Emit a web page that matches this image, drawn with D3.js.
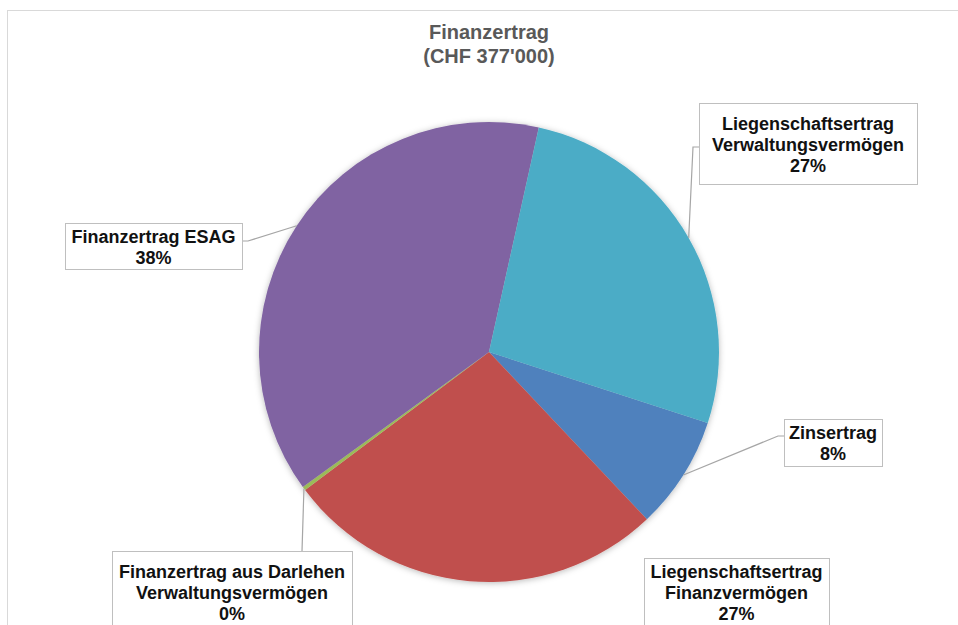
<!DOCTYPE html>
<html>
<head>
<meta charset="utf-8">
<script src="https://cdn.jsdelivr.net/npm/d3@7"></script>
<style>
  html, body { margin: 0; padding: 0; background: #fff; }
  svg { display: block; }
</style>
</head>
<body>
<svg id="chart" width="958" height="625"></svg>
<script>
// Financial income by source, in thousand CHF
const categories = [
  "Zinsertrag",
  "Liegenschaftsertrag Finanzvermögen",
  "Finanzertrag aus Darlehen Verwaltungsvermögen",
  "Finanzertrag ESAG",
  "Liegenschaftsertrag Verwaltungsvermögen"
];
const values = [30, 101, 1, 145, 100];
const labelLines = [
  ["Zinsertrag"],
  ["Liegenschaftsertrag", "Finanzvermögen"],
  ["Finanzertrag aus Darlehen", "Verwaltungsvermögen"],
  ["Finanzertrag ESAG"],
  ["Liegenschaftsertrag", "Verwaltungsvermögen"]
];
const titleLines = ["Finanzertrag", "(CHF 377'000)"];

const colors = ["#4F81BD", "#C0504D", "#9BBB59", "#8064A2", "#4BACC6"];

// Placement of the data label boxes and their leader lines
const labelLayout = [
  { box: [784, 419, 98, 47],  cx: 833,   y0: 439, attach: [784, 436], elbow: [778, 436] },
  { box: [644, 558, 185, 80], cx: 736.5, y0: 578, attach: null,       elbow: null },
  { box: [112, 551, 240, 80], cx: 232,   y0: 578, attach: [302, 551], elbow: null },
  { box: [65, 223, 177, 46],  cx: 153.5, y0: 243, attach: [242, 241], elbow: [248, 241] },
  { box: [699, 103, 218, 81], cx: 808,   y0: 130, attach: [699, 147], elbow: [693, 147] }
];

const svg = d3.select("#chart");
const W = 958, H = 625;
const cx = 489, cy = 352, R = 230;

// Chart area frame
svg.append("rect")
  .attr("x", 7.5).attr("y", 10.5)
  .attr("width", W + 10).attr("height", H + 10)
  .attr("fill", "#fff").attr("stroke", "#d9d9d9").attr("stroke-width", 1);

// Title
svg.append("text")
  .attr("text-anchor", "middle")
  .attr("font-family", "Liberation Sans, Arial, sans-serif")
  .attr("font-weight", "bold").attr("font-size", 20)
  .attr("fill", "#595959")
  .selectAll("tspan").data(titleLines).join("tspan")
  .attr("x", cx).attr("y", (d, i) => 39 + i * 24)
  .text(d => d);

const defs = svg.append("defs");
const f = defs.append("filter").attr("id", "pieShadow")
  .attr("x", "-10%").attr("y", "-10%").attr("width", "120%").attr("height", "120%");
f.append("feDropShadow")
  .attr("dx", 0).attr("dy", 1).attr("stdDeviation", 3)
  .attr("flood-color", "#000").attr("flood-opacity", 0.28);

const start = 108 * Math.PI / 180;
const pie = d3.pie().sort(null).startAngle(start).endAngle(start + 2 * Math.PI);
const arcs = pie(values);
const arc = d3.arc().innerRadius(0).outerRadius(R);
const total = d3.sum(values);

const g = svg.append("g").attr("transform", `translate(${cx},${cy})`);
g.append("g").attr("filter", "url(#pieShadow)")
  .selectAll("path").data(arcs).join("path")
  .attr("d", arc)
  .attr("fill", (d, i) => colors[i]);

// Leader lines from slice edge to label box
const edgePoint = d => {
  const a = (d.startAngle + d.endAngle) / 2;
  return [cx + R * Math.sin(a), cy - R * Math.cos(a)];
};
const lineGen = d3.line();
svg.append("g").selectAll("path")
  .data(arcs.filter((d, i) => labelLayout[i].attach))
  .join("path")
  .attr("d", d => {
    const L = labelLayout[d.index];
    const pts = [edgePoint(d)];
    if (L.elbow) pts.push(L.elbow);
    pts.push(L.attach);
    return lineGen(pts);
  })
  .attr("fill", "none").attr("stroke", "#a6a6a6").attr("stroke-width", 1.2);

// Data labels: name and share
const labels = svg.append("g").selectAll("g").data(arcs).join("g");
labels.append("rect")
  .attr("x", d => labelLayout[d.index].box[0] + 0.5)
  .attr("y", d => labelLayout[d.index].box[1] + 0.5)
  .attr("width", d => labelLayout[d.index].box[2])
  .attr("height", d => labelLayout[d.index].box[3])
  .attr("fill", "#fff").attr("stroke", "#bfbfbf").attr("stroke-width", 1);
labels.append("text")
  .attr("text-anchor", "middle")
  .attr("font-family", "Liberation Sans, Arial, sans-serif")
  .attr("font-weight", "bold").attr("font-size", 18)
  .attr("fill", "#111")
  .each(function(d) {
    const L = labelLayout[d.index];
    const lines = labelLines[d.index].concat([Math.round(d.data / total * 100) + "%"]);
    d3.select(this).selectAll("tspan").data(lines).join("tspan")
      .attr("x", L.cx).attr("y", (t, i) => L.y0 + i * 21)
      .text(t => t);
  });
</script>
</body>
</html>
